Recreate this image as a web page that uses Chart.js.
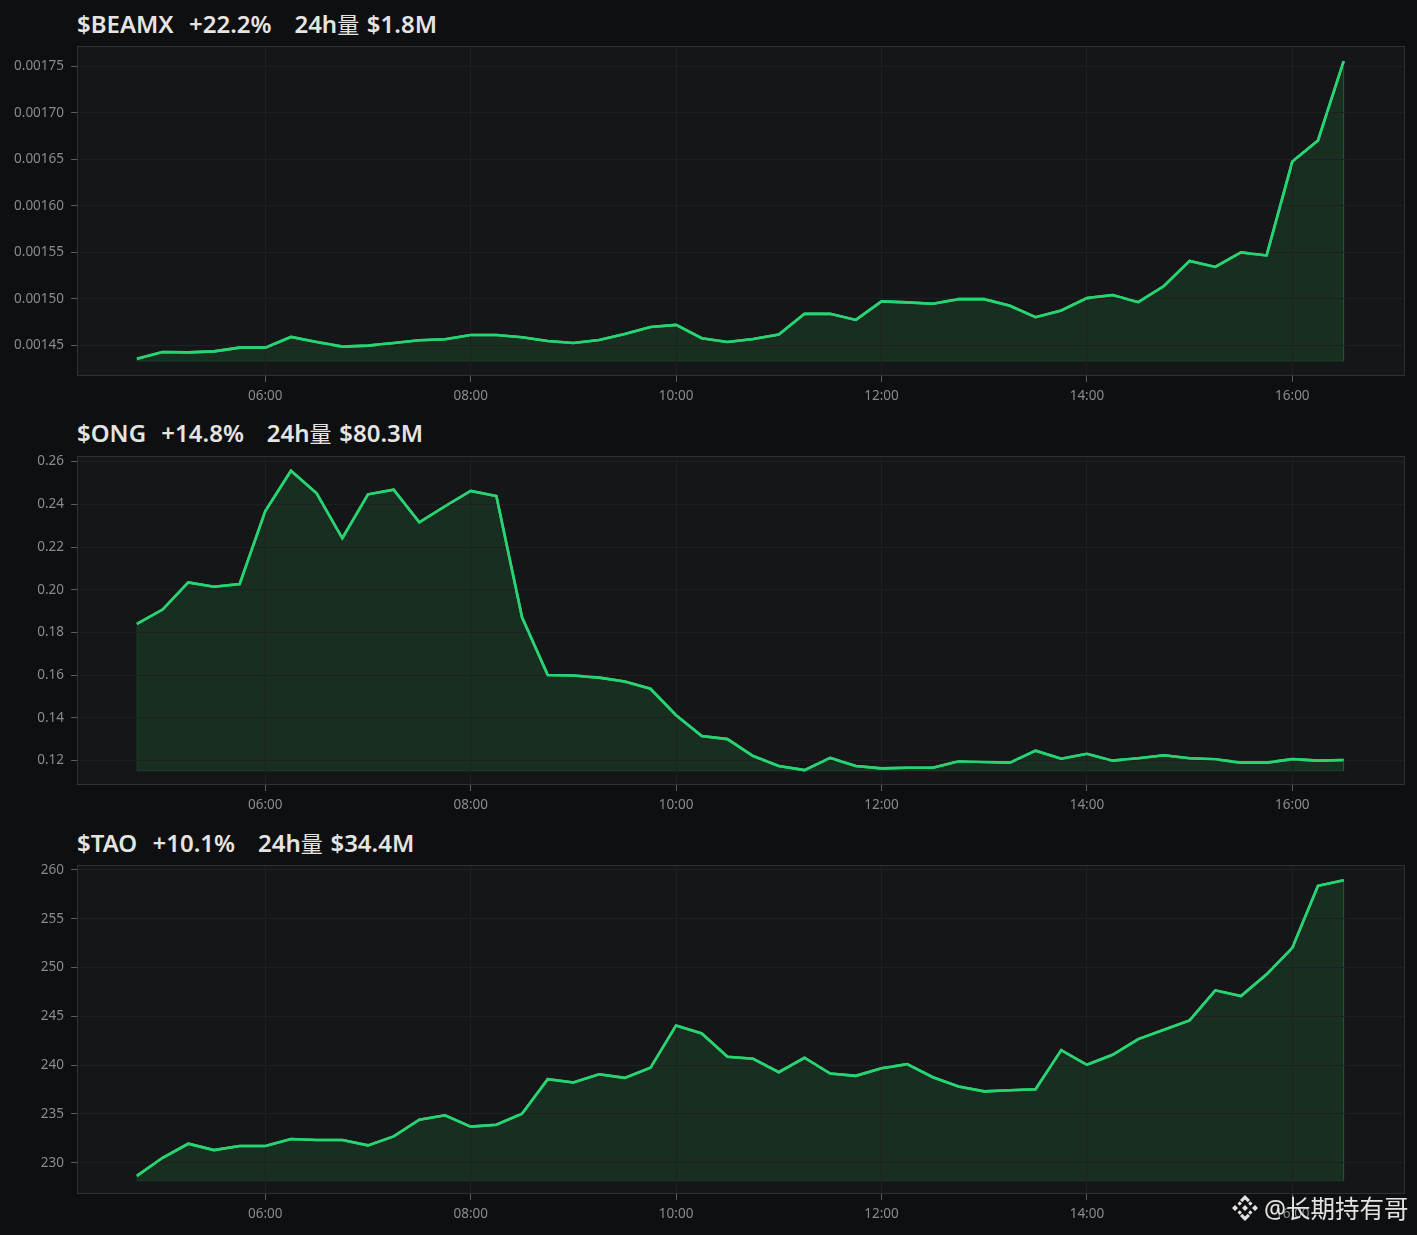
<!DOCTYPE html>
<html>
<head>
<meta charset="utf-8">
<script src="https://cdn.jsdelivr.net/npm/chart.js@4"></script>
<style>
  html, body { margin: 0; padding: 0; background: #0e0f11; width: 1417px; height: 1235px; overflow: hidden; }
  canvas { position: absolute; left: 0; }
  .title { position: absolute; left: 77px; font: 600 24px "Noto Sans", "Noto Sans CJK SC", sans-serif; color: #e6e4e0; white-space: pre; line-height: 32px; word-spacing: 1.4px; }
  .title span { font-size: 22px; font-weight: 400; }
  #mark { position: absolute; left: 1264px; top: 1192px; font: 24.5px "Noto Sans", "Noto Sans CJK SC", sans-serif; color: #e2e2e0; white-space: pre; line-height: 34px; }
  #logo { position: absolute; left: 1231px; top: 1194px; }
</style>
</head>
<body>
<div class="title" style="top:8px">$BEAMX  +22.2%   24h<span>量</span> $1.8M</div>
<div class="title" style="top:417px">$ONG  +14.8%   24h<span>量</span> $80.3M</div>
<div class="title" style="top:827px">$TAO  +10.1%   24h<span>量</span> $34.4M</div>
<canvas id="c1" width="1417" height="384" style="top:31px"></canvas>
<canvas id="c2" width="1417" height="383" style="top:441px"></canvas>
<canvas id="c3" width="1417" height="383" style="top:850px"></canvas>
<svg id="logo" width="28" height="28" viewBox="0 0 28 28" fill="#e2e2e0">
  <path d="M14 1l5 5-2.2 2.2L14 5.4l-2.8 2.8L9 6z"/>
  <path d="M14 27l5-5-2.2-2.2L14 22.6l-2.8-2.8L9 22z"/>
  <path d="M1 14l3-3 3 3-3 3zM21 14l3-3 3 3-3 3zM11 14l3-3 3 3-3 3z"/>
  <path d="M6.5 9.5l2.2-2.2 2.2 2.2-2.2 2.2zM17.1 9.5l2.2-2.2 2.2 2.2-2.2 2.2zM6.5 18.5l2.2-2.2 2.2 2.2-2.2 2.2zM17.1 18.5l2.2-2.2 2.2 2.2-2.2 2.2z"/>
</svg>
<div id="mark">@长期持有哥</div>
<script>
const times = ['04:45','05:00','05:15','05:30','05:45','06:00','06:15','06:30','06:45','07:00','07:15','07:30',
  '07:45','08:00','08:15','08:30','08:45','09:00','09:15','09:30','09:45','10:00','10:15','10:30',
  '10:45','11:00','11:15','11:30','11:45','12:00','12:15','12:30','12:45','13:00','13:15','13:30',
  '13:45','14:00','14:15','14:30','14:45','15:00','15:15','15:30','15:45','16:00','16:15','16:30'];
const xTickLabels = ['06:00','08:00','10:00','12:00','14:00','16:00'];

const beamx = [.0014356,.0014428,.0014424,.0014435,.0014475,.0014475,.0014590,.0014536,.0014486,.0014497,.0014525,.0014554,
  .0014565,.0014611,.0014611,.0014586,.0014546,.0014525,.0014557,.0014622,.0014697,.0014719,.0014576,.0014536,
  .0014568,.0014615,.0014838,.0014838,.0014773,.0014972,.0014961,.0014946,.0014996,.0014996,.0014924,.0014802,
  .0014874,.0015007,.0015040,.0014964,.0015137,.0015407,.0015342,.0015498,.0015466,.0016475,.0016702,.0017554];
const ong = [.1840,.1907,.2034,.2014,.2026,.2369,.2557,.2452,.2241,.2447,.2469,.2316,
  .2391,.2463,.2439,.1871,.1600,.1598,.1588,.1570,.1536,.1412,.1314,.1300,
  .1221,.1174,.1155,.1212,.1174,.1163,.1166,.1166,.1196,.1193,.1190,.1246,
  .1208,.1231,.1199,.1210,.1224,.1210,.1206,.1190,.1190,.1206,.1199,.1202];
const tao = [228.66,230.51,231.95,231.30,231.72,231.72,232.43,232.33,232.33,231.78,232.70,234.42,
  234.86,233.70,233.90,235.03,238.56,238.22,239.07,238.70,239.73,244.07,243.25,240.86,
  240.65,239.28,240.76,239.14,238.91,239.69,240.10,238.76,237.81,237.32,237.43,237.53,
  241.54,240.04,241.06,242.67,243.63,244.59,247.67,247.08,249.31,252.02,258.38,258.94];

const beamxTicks = ['0.00145','0.00150','0.00155','0.00160','0.00165','0.00170','0.00175'];
const ongTicks = ['0.12','0.14','0.16','0.18','0.20','0.22','0.24','0.26'];
const taoTicks = ['230','235','240','245','250','255','260'];

const LINE = '#29d372';
const FILL = 'rgba(34,197,94,0.14)';
const EDGE = 'rgba(46,204,113,0.15)';
const GRID = '#1e1f21';
const TICK_FONT = { family: '"Noto Sans", sans-serif', size: 13.5 };

function mins(t) {
  const p = t.split(':');
  return +p[0] * 60 + +p[1];
}

// plot background, the frame, and the price line again above the grid
const framePlugin = {
  id: 'frame',
  beforeDraw(chart) {
    const a = chart.chartArea, ctx = chart.ctx;
    ctx.fillStyle = '#151618';
    ctx.fillRect(a.left, a.top, a.width, a.height);
  },
  afterDraw(chart) {
    const a = chart.chartArea, ctx = chart.ctx;
    chart.getDatasetMeta(1).dataset.draw(ctx, a);
    ctx.strokeStyle = '#303134';
    ctx.lineWidth = 1;
    ctx.strokeRect(Math.round(a.left) + 0.5, Math.round(a.top) + 0.5, Math.round(a.width) - 1, Math.round(a.height) - 1);
  }
};

function drawPanel(id, values, tickLabels, yMin, yMax, base) {
  const points = values.map((v, i) => ({ x: mins(times[i]), y: v }));
  const first = points[0].x, last = points[points.length - 1].x;
  const outline = [{ x: first, y: base }].concat(points, [{ x: last, y: base }, { x: first, y: base }]);
  const decimals = (tickLabels[0].split('.')[1] || '').length;

  new Chart(document.getElementById(id), {
    type: 'line',
    data: {
      datasets: [
        { data: outline, borderColor: EDGE, borderWidth: 1, pointRadius: 0, fill: false, order: 2 },
        { data: points, borderColor: LINE, borderWidth: 2.6, pointRadius: 0, tension: 0,
          fill: { value: base }, backgroundColor: FILL, order: 1, borderJoinStyle: 'miter' }
      ]
    },
    options: {
      responsive: false,
      animation: false,
      layout: { padding: { top: 8, right: 12, left: 0, bottom: 0 } },
      plugins: { legend: { display: false }, tooltip: { enabled: false }, title: { display: false } },
      scales: {
        x: {
          type: 'linear',
          min: 250,
          max: 1025.83,
          afterBuildTicks(s) { s.ticks = xTickLabels.map(t => ({ value: mins(t) })); },
          afterFit(s) { s.height = 39; },
          grid: { color: GRID, z: 1, tickColor: '#5a5b5e', tickLength: 6 },
          border: { display: false },
          ticks: { color: '#8a8b8e', font: TICK_FONT, padding: 6, maxRotation: 0, autoSkip: false,
            callback: (v, i) => xTickLabels[i] }
        },
        y: {
          min: yMin,
          max: yMax,
          afterBuildTicks(s) { s.ticks = tickLabels.map(t => ({ value: +t })); },
          afterFit(s) { s.width = 77; },
          grid: { color: GRID, z: 1, tickColor: '#5a5b5e', tickLength: 6 },
          border: { display: false },
          ticks: { color: '#8a8b8e', font: TICK_FONT, padding: 7, autoSkip: false,
            callback: v => v.toFixed(decimals) }
        }
      }
    },
    plugins: [framePlugin]
  });
}

drawPanel('c1', beamx, beamxTicks, 0.001417, 0.0017716, 0.001433);
drawPanel('c2', ong, ongTicks, 0.1085, 0.2626, 0.1151);
drawPanel('c3', tao, taoTicks, 226.8, 260.5, 228.15);
</script>
</body>
</html>
